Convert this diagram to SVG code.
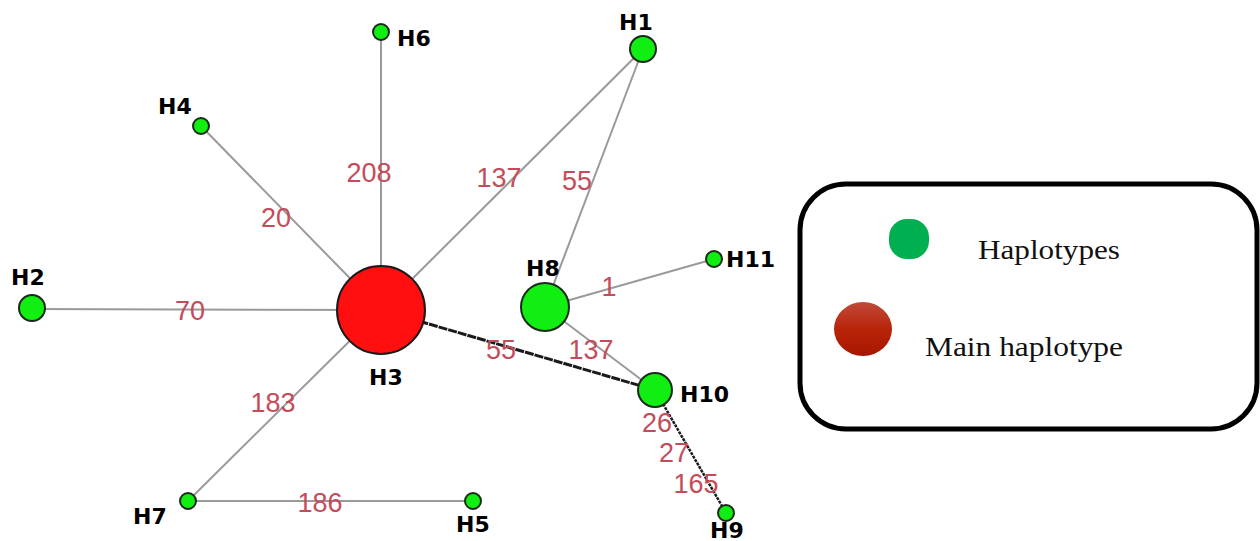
<svg xmlns="http://www.w3.org/2000/svg" width="1260" height="541" viewBox="0 0 1260 541">
  <defs>
    <style>
      .edge { stroke: #9a9a9a; stroke-width: 2; fill: none; }
      .edge-dark { stroke: #1a1a1a; stroke-width: 3; stroke-dasharray: 9 1; fill: none; }
      .node { fill: #11ee11; stroke: #1a2a1a; stroke-width: 2; }
      .main { fill: #ff0f0f; stroke: #1a1a1a; stroke-width: 2; }
      .nlabel { font-family: "DejaVu Sans", Verdana, sans-serif; font-weight: bold; font-size: 22px; fill: #000; }
      .elabel { font-family: "Liberation Sans", Arial, sans-serif; font-size: 27px; fill: #c44c5a; text-anchor: middle; }
      .legend-text { font-family: "Liberation Serif", "Times New Roman", serif; font-size: 27px; fill: #111; }
    </style>
    <linearGradient id="mainGrad" x1="0" y1="0" x2="0" y2="1">
      <stop offset="0" stop-color="#c04a3c"/>
      <stop offset="0.5" stop-color="#b82408"/>
      <stop offset="1" stop-color="#a81600"/>
    </linearGradient>
  </defs>
  <rect width="1260" height="541" fill="#ffffff"/>

  <!-- connectors -->
  <g id="connectors">
    <line class="edge" x1="381" y1="32" x2="381" y2="310"/>
    <line class="edge" x1="201" y1="126" x2="381" y2="310"/>
    <line class="edge" x1="643" y1="49" x2="381" y2="310"/>
    <line class="edge" x1="643" y1="49" x2="545" y2="307"/>
    <line class="edge" x1="32" y1="309" x2="381" y2="310"/>
    <line class="edge" x1="188" y1="501" x2="381" y2="310"/>
    <line class="edge" x1="188" y1="501" x2="473" y2="501"/>
    <line class="edge" x1="545" y1="307" x2="714" y2="259"/>
    <line class="edge" x1="545" y1="307" x2="655" y2="390"/>
    <line class="edge-dark" x1="381" y1="310" x2="655" y2="390"/>
    <line class="edge-dark" x1="655" y1="390" x2="726" y2="513" style="stroke-width:2.5;stroke-dasharray:3 1"/>
  </g>

  <!-- connector labels -->
  <g id="edge-labels">
    <text class="elabel" x="369" y="182">208</text>
    <text class="elabel" x="499" y="187">137</text>
    <text class="elabel" x="577" y="190">55</text>
    <text class="elabel" x="276" y="227">20</text>
    <text class="elabel" x="190" y="320">70</text>
    <text class="elabel" x="609" y="296">1</text>
    <text class="elabel" x="501" y="359">55</text>
    <text class="elabel" x="591" y="359">137</text>
    <text class="elabel" x="273" y="412">183</text>
    <text class="elabel" x="657" y="432">26</text>
    <text class="elabel" x="674" y="462">27</text>
    <text class="elabel" x="696" y="493">165</text>
    <text class="elabel" x="320" y="512">186</text>
  </g>

  <!-- haplotype nodes -->
  <g id="H3">
    <circle class="main" cx="381" cy="310" r="44"/>
    <text class="nlabel" x="369" y="385">H3</text>
  </g>
  <g id="H1">
    <circle class="node" cx="643" cy="49" r="13"/>
    <text class="nlabel" x="619" y="30">H1</text>
  </g>
  <g id="H2">
    <circle class="node" cx="32" cy="308" r="13"/>
    <text class="nlabel" x="11" y="285">H2</text>
  </g>
  <g id="H4">
    <circle class="node" cx="201" cy="126" r="8"/>
    <text class="nlabel" x="158" y="114">H4</text>
  </g>
  <g id="H5">
    <circle class="node" cx="473" cy="501" r="8"/>
    <text class="nlabel" x="456" y="532">H5</text>
  </g>
  <g id="H6">
    <circle class="node" cx="381" cy="32" r="8"/>
    <text class="nlabel" x="397" y="46">H6</text>
  </g>
  <g id="H7">
    <circle class="node" cx="188" cy="501" r="8"/>
    <text class="nlabel" x="133" y="524">H7</text>
  </g>
  <g id="H8">
    <circle class="node" cx="545" cy="307" r="24"/>
    <text class="nlabel" x="526" y="276">H8</text>
  </g>
  <g id="H9">
    <circle class="node" cx="726" cy="513" r="8"/>
    <text class="nlabel" x="710" y="538">H9</text>
  </g>
  <g id="H10">
    <circle class="node" cx="655" cy="390" r="17"/>
    <text class="nlabel" x="680" y="402">H10</text>
  </g>
  <g id="H11">
    <circle class="node" cx="714" cy="259" r="8"/>
    <text class="nlabel" x="726" y="267">H11</text>
  </g>

  <!-- legend -->
  <g id="legend">
    <rect x="800" y="184" width="457" height="245" rx="46" ry="46" fill="#ffffff" stroke="#000000" stroke-width="5"/>
    <rect x="889" y="219" width="40" height="40" rx="18" ry="18" fill="#00b050"/>
    <ellipse cx="863" cy="329" rx="29" ry="27" fill="url(#mainGrad)"/>
    <text class="legend-text" x="978" y="259" textLength="142" lengthAdjust="spacingAndGlyphs">Haplotypes</text>
    <text class="legend-text" x="925" y="356" textLength="198" lengthAdjust="spacingAndGlyphs">Main haplotype</text>
  </g>
</svg>
